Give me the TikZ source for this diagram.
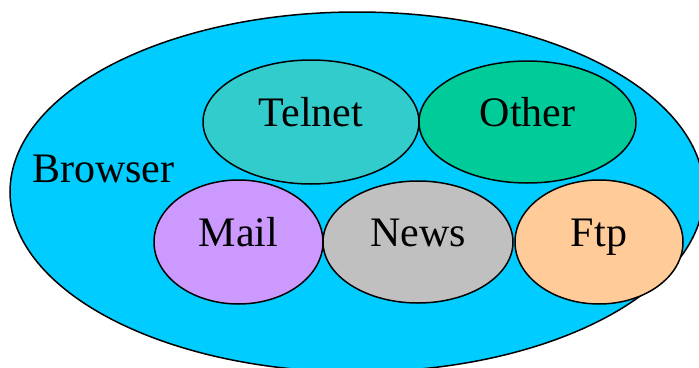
\documentclass[tikz,border=0pt]{standalone}
\usepackage{fontspec}
\setmainfont{Liberation Serif}
\usetikzlibrary{shapes}
\definecolor{browsercol}{HTML}{00CCFF}
\definecolor{telnetcol}{HTML}{33CCCC}
\definecolor{othercol}{HTML}{00CC99}
\definecolor{mailcol}{HTML}{CC99FF}
\definecolor{newscol}{HTML}{C0C0C0}
\definecolor{ftpcol}{HTML}{FFCC99}
\tikzset{
    blob/.style= {shape=ellipse,draw,line width=1.5pt,inner sep=0,text height=30pt,text depth=22pt,font=\fontsize{42}{50}\selectfont}
}

\begin{document}
\begin{tikzpicture}[x=1pt, y=-1pt]
    \useasboundingbox (0,0) rectangle (699,367);
    \clip (0,0) rectangle (699,367);
    \node[blob, fill=browsercol, minimum width=694pt, minimum height=360pt]
        (web) at (357,192) {};
    \node[font=\fontsize{42}{50}\selectfont, anchor=base west, inner sep=0]
        (browser) at (32,182) {Browser};

    \node[blob, fill=telnetcol, minimum width=216pt, minimum height=124pt]
        (telnet) at (311,122) {Telnet};
    \node[blob, fill=othercol, minimum width=217pt, minimum height=122pt]
        (other) at (527.5,122) {Other};
    \node[blob, fill=mailcol, minimum width=169pt, minimum height=124pt]
        (mail) at (238.5,242) {Mail};
    \node[blob, fill=newscol, minimum width=190pt, minimum height=122pt]
        (news) at (418,242) {News};
    \node[blob, fill=ftpcol, minimum width=168pt, minimum height=124pt]
        (ftp) at (599,242) {Ftp};
\end{tikzpicture}
\end{document}
